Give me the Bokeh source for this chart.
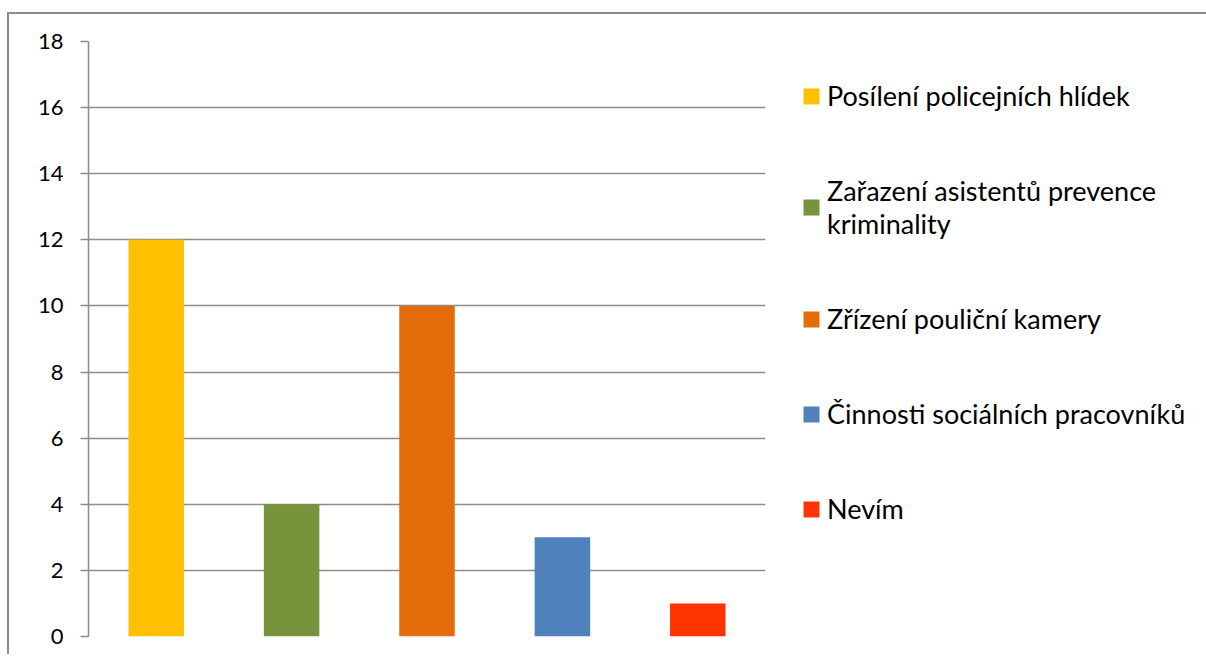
from bokeh.plotting import figure
from bokeh.models import Range1d, FactorRange, Legend, LegendItem, FixedTicker, ColumnDataSource
from bokeh.embed import file_html
from bokeh.resources import INLINE

categories = ["Posílení policejních hlídek", "Zařazení asistentů prevence kriminality",
              "Zřízení pouliční kamery", "Činnosti sociálních pracovníků", "Nevím"]
values = [12, 4, 10, 3, 1]
legend_labels = ["Posílení policejních hlídek", "Zařazení asistentů prevence\nkriminality",
                 "Zřízení pouliční kamery", "Činnosti sociálních pracovníků", "Nevím"]
colors = ["#FFC000", "#77933C", "#E46C0A", "#4F81BD", "#FF3300"]
y_ticks = [0, 2, 4, 6, 8, 10, 12, 14, 16, 18]

GRAY = "#8c8c8c"
FONT = "Lato"

p = figure(x_range=FactorRange(*categories, range_padding=0), y_range=Range1d(0, 18),
           frame_width=677, frame_height=595,
           min_border_left=79, min_border_right=436, min_border_top=27, min_border_bottom=18,
           output_backend="svg", toolbar_location=None)
p.styles = {"border-top": "2px solid #8c8c8c", "border-left": "2px solid #8c8c8c",
            "margin-top": "12px", "margin-left": "7px"}
p.outline_line_color = None
p.background_fill_color = "white"
p.border_fill_color = "white"

renderers = []
for cat, val, col in zip(categories, values, colors):
    src = ColumnDataSource(dict(x=[cat], top=[val]))
    r = p.vbar(x="x", top="top", width=0.41, source=src, fill_color=col, line_color=None)
    renderers.append(r)

p.xaxis.visible = False
p.xgrid.grid_line_color = None
p.ygrid.grid_line_color = GRAY
p.ygrid.grid_line_width = 1.5
p.yaxis.ticker = FixedTicker(ticks=y_ticks)
p.yaxis.axis_line_color = GRAY
p.yaxis.axis_line_width = 1.5
p.yaxis.major_tick_line_color = GRAY
p.yaxis.major_tick_line_width = 1.5
p.yaxis.major_tick_out = 8
p.yaxis.major_tick_in = 0
p.yaxis.minor_tick_line_color = None
p.yaxis.major_label_standoff = 17
p.yaxis.major_label_text_font = FONT
p.yaxis.major_label_text_font_size = "22px"
p.yaxis.major_label_text_color = "#000000"

leg = Legend(items=[LegendItem(label=lab, renderers=[r]) for lab, r in zip(legend_labels, renderers)],
             location=(36, 111),
             border_line_color=None, background_fill_alpha=0, padding=0, margin=0,
             spacing=62, glyph_width=20, glyph_height=20, label_standoff=6,
             label_text_font=FONT, label_text_font_size="27px", label_text_color="#000000",
             label_text_line_height=1.45)
p.add_layout(leg, "right")

open("out.html", "w").write(file_html(p, INLINE))
